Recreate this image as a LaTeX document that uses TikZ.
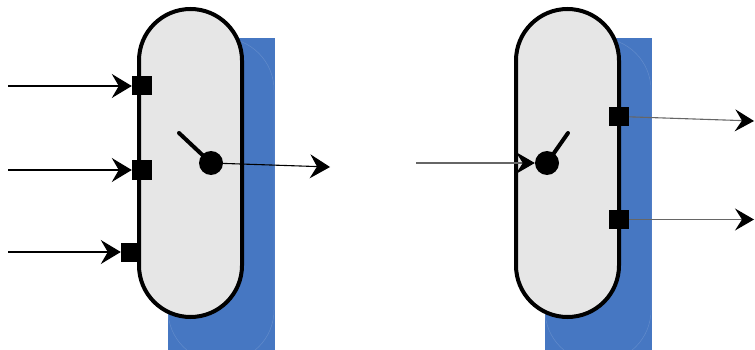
\documentclass[tikz,border=0pt]{standalone}
\usetikzlibrary{arrows.meta}
\definecolor{blueback}{HTML}{4677C2}
\definecolor{bodyfill}{HTML}{E6E6E6}
\begin{document}
\begin{tikzpicture}[x=1pt,y=-1pt,
  backrect/.style={fill=blueback,draw=none},
  ghost/.style={draw=white,draw opacity=0.15,line width=0.5pt,rounded corners=52pt},
  body/.style={draw=black,fill=bodyfill,line width=4pt,rounded corners=51.5pt,minimum width=103pt,minimum height=308pt,inner sep=0pt},
  port/.style={fill=black,draw=none,minimum width=20pt,minimum height=19pt,inner sep=0pt},
  knob/.style={circle,fill=black,draw=none,minimum size=24pt,inner sep=0pt},
  handle/.style={line width=4pt,line cap=round},
  flow/.style={line width=1.1pt,-{Stealth[length=20pt,width=24pt,inset=7pt]}},
  flowg/.style={flow,draw=black!60,-{Stealth[length=19pt,width=22pt,inset=7pt,fill=black,color=black]}}]
\useasboundingbox (0,0) rectangle (755,350);
% left unit
\fill[blueback] (168,38) rectangle (275,350);
\draw[ghost] (168,38) rectangle (274,362);
\node[body] (L) at (190.5,163) {};
\node[port] (pA) at (142,86) {};
\node[port] (pB) at (142,170) {};
\node[port] (pC) at (131,252) {};
\coordinate (iA) at (8,86);
\coordinate (iB) at (8,170);
\coordinate (iC) at (8,252);
\draw[flow] (iA) -- (pA);
\draw[flow] (iB) -- (pB);
\draw[flow] (iC) -- (pC);
\coordinate (hL) at (179,133);
\node[knob] (kL) at (211,163) {};
\draw[handle] (hL) -- (kL.center);
\coordinate (oL) at (330,167);
\draw[flow] (kL) -- (oL);
% right unit
\fill[blueback] (545,38) rectangle (652,350);
\draw[ghost] (545,38) rectangle (651,362);
\node[body] (R) at (567.5,163) {};
\node[port] (pD) at (619,116.5) {};
\node[port] (pE) at (619,219.5) {};
\coordinate (hR) at (568,133);
\node[knob] (kR) at (547,163) {};
\draw[handle] (hR) -- (kR.center);
\coordinate (iR) at (416,163);
\draw[flowg] (iR) -- (kR);
\coordinate (oD) at (754,121);
\coordinate (oE) at (754,219.5);
\draw[flowg] (pD) -- (oD);
\draw[flowg] (pE) -- (oE);
\end{tikzpicture}
\end{document}
